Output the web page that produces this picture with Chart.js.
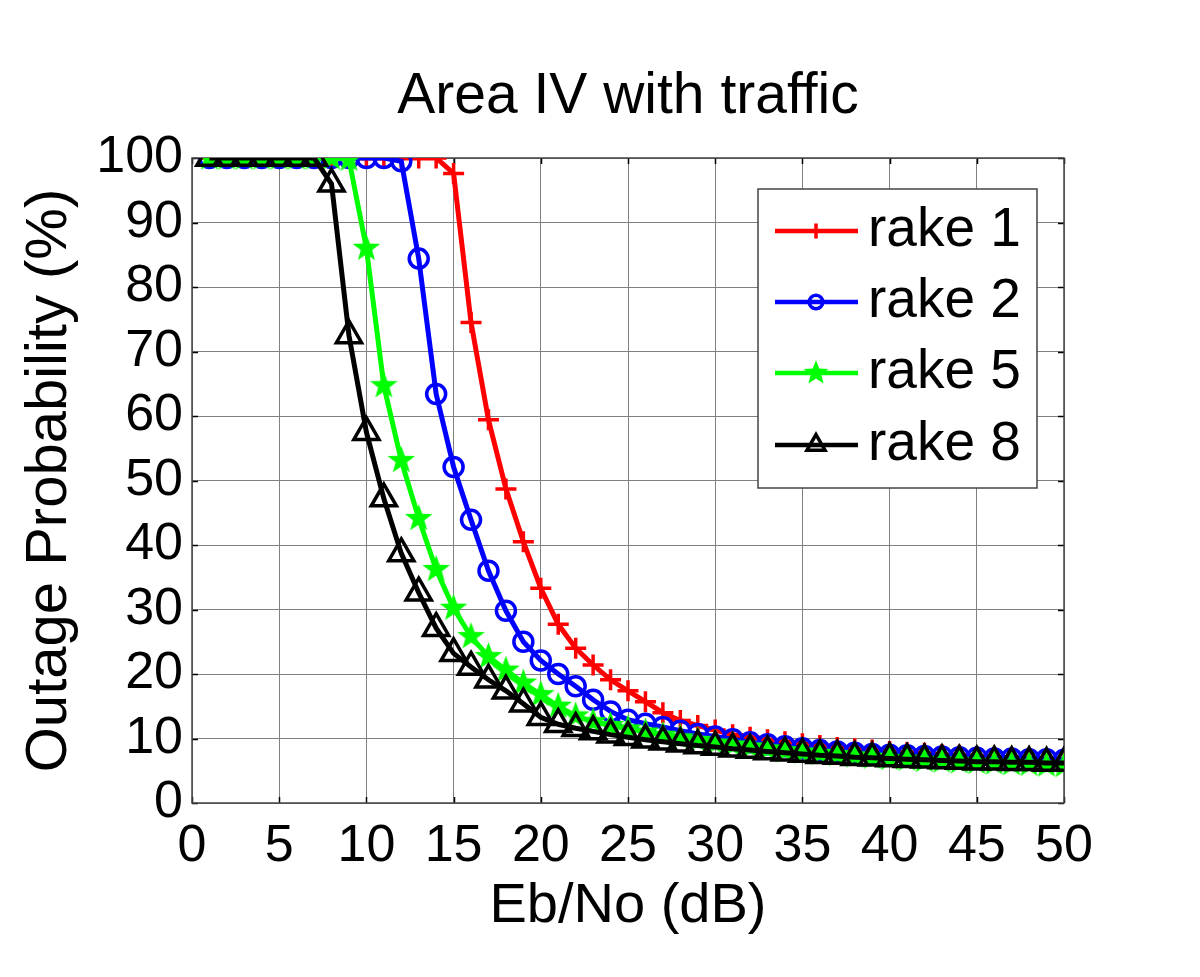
<!DOCTYPE html>
<html>
<head>
<meta charset="utf-8">
<title>Area IV with traffic</title>
<script src="https://cdn.jsdelivr.net/npm/chart.js@4.4.1/dist/chart.umd.min.js"></script>
<style>
  html, body { margin: 0; padding: 0; background: #fff; }
  #wrap { width: 1200px; height: 977px; }
</style>
</head>
<body>
<div id="wrap"><canvas id="outageChart" width="1200" height="977"></canvas></div>
<script>
// Eb/No values (dB)
const ebno = [1, 2, 3, 4, 5, 6, 7, 8, 9, 10, 11, 12, 13, 14, 15, 16, 17, 18, 19, 20,
  21, 22, 23, 24, 25, 26, 27, 28, 29, 30, 31, 32, 33, 34, 35, 36, 37, 38, 39, 40,
  41, 42, 43, 44, 45, 46, 47, 48, 49, 50];

// outage probability (%) per rake configuration
const rake1 = [100, 100, 100, 100, 100, 100, 100, 100, 100, 100, 100, 100, 100, 100, 97.6, 74.5, 59.4, 48.7, 40.5, 33.3,
  27.7, 24.0, 21.4, 19.1, 17.4, 15.7, 14.0, 12.8, 12.0, 11.3, 10.6, 10.2, 9.8, 9.5, 9.2, 8.9, 8.6, 8.4, 8.2, 8.0,
  7.8, 7.7, 7.5, 7.4, 7.2, 7.1, 7.0, 6.9, 6.8, 6.7];
const rake2 = [100, 100, 100, 100, 100, 100, 100, 100, 100, 100, 100, 99.5, 84.4, 63.4, 52.1, 43.9, 36.0, 29.8, 25.0, 22.1,
  20.0, 18.1, 16.0, 14.2, 12.9, 12.3, 11.8, 11.2, 10.7, 10.3, 9.9, 9.4, 9.1, 8.8, 8.5, 8.2, 8.0, 7.8, 7.6, 7.5,
  7.4, 7.3, 7.2, 7.1, 7.0, 6.9, 6.9, 6.8, 6.8, 6.7];
const rake5 = [100, 100, 100, 100, 100, 100, 100, 100, 99.8, 86.0, 64.7, 53.1, 44.1, 36.2, 30.2, 25.8, 22.7, 20.6, 18.6, 16.8,
  15.0, 13.5, 12.6, 12.0, 11.5, 11.0, 10.5, 10.1, 9.7, 9.3, 9.0, 8.7, 8.4, 8.1, 7.9, 7.7, 7.5, 7.3, 7.1, 6.9,
  6.8, 6.6, 6.5, 6.4, 6.3, 6.2, 6.1, 6.0, 5.9, 5.8];
const rake8 = [100, 100, 100, 100, 100, 100, 100, 96.0, 72.5, 57.5, 47.2, 38.7, 32.6, 27.1, 23.2, 21.1, 19.1, 17.4, 15.4, 13.3,
  12.2, 11.6, 11.1, 10.6, 10.2, 9.8, 9.5, 9.2, 8.9, 8.7, 8.4, 8.2, 8.0, 7.8, 7.6, 7.4, 7.3, 7.1, 7.0, 6.9,
  6.8, 6.7, 6.6, 6.5, 6.4, 6.4, 6.3, 6.3, 6.2, 6.2];

const seriesNames = ['rake 1', 'rake 2', 'rake 5', 'rake 8'];
const xTicks = [0, 5, 10, 15, 20, 25, 30, 35, 40, 45, 50];
const yTicks = [0, 10, 20, 30, 40, 50, 60, 70, 80, 90, 100];

const FONT = '"Liberation Sans", Arial, Helvetica, sans-serif';

// filled five point star marker (matlab 'p')
function makeStar(color, outer, inner) {
  const size = Math.ceil(outer * 2 + 2);
  const c = document.createElement('canvas');
  c.width = size; c.height = size;
  const g = c.getContext('2d');
  g.fillStyle = color;
  g.beginPath();
  for (let i = 0; i < 10; i++) {
    const r = i % 2 ? inner : outer;
    const a = -Math.PI / 2 + i * Math.PI / 5;
    g.lineTo(size / 2 + r * Math.cos(a), size / 2 + r * Math.sin(a));
  }
  g.closePath();
  g.fill();
  return c;
}
const star = makeStar('#00ff00', 14.5, 6);
const legendStar = makeStar('#00ff00', 13, 5.5);

const toPoints = vals => vals.map((v, i) => ({ x: ebno[i], y: v }));

// axes box, inward tick marks, title and legend (matlab style)
const matlabFrame = {
  id: 'matlabFrame',
  beforeDatasetsDraw(chart) {
    const { ctx, chartArea: a, scales } = chart;
    ctx.save();
    ctx.strokeStyle = '#000';
    ctx.lineWidth = 1.5;
    ctx.beginPath();
    scales.x.ticks.forEach(t => {
      const px = Math.round(scales.x.getPixelForValue(t.value)) + 0.5;
      ctx.moveTo(px, a.bottom); ctx.lineTo(px, a.bottom - 6);
      ctx.moveTo(px, a.top); ctx.lineTo(px, a.top + 6);
    });
    scales.y.ticks.forEach(t => {
      const py = Math.round(scales.y.getPixelForValue(t.value)) + 0.5;
      ctx.moveTo(a.left, py); ctx.lineTo(a.left + 6, py);
      ctx.moveTo(a.right, py); ctx.lineTo(a.right - 6, py);
    });
    ctx.stroke();
    ctx.strokeStyle = '#444';
    ctx.lineWidth = 1.5;
    ctx.strokeRect(a.left, a.top, a.right - a.left, a.bottom - a.top);
    ctx.restore();
  },
  afterDraw(chart) {
    const { ctx } = chart;
    ctx.save();
    // title
    ctx.fillStyle = '#000';
    ctx.font = '57px ' + FONT;
    ctx.textAlign = 'center';
    ctx.textBaseline = 'middle';
    ctx.fillText('Area IV with traffic', 628, 97);

    // legend box
    const box = { left: 758, top: 189, right: 1037, bottom: 488 };
    ctx.fillStyle = '#fff';
    ctx.fillRect(box.left, box.top, box.right - box.left, box.bottom - box.top);
    ctx.strokeStyle = '#444';
    ctx.lineWidth = 1.5;
    ctx.strokeRect(box.left, box.top, box.right - box.left, box.bottom - box.top);

    const rowY = [231, 302, 373, 445];
    chart.data.datasets.forEach((ds, i) => {
      const y = rowY[i];
      ctx.strokeStyle = ds.borderColor;
      ctx.lineWidth = 4.5;
      ctx.beginPath();
      ctx.moveTo(775, y); ctx.lineTo(858, y);
      ctx.stroke();
      ctx.fillStyle = 'rgba(0,0,0,0)';
      ctx.strokeStyle = ds.borderColor;
      ctx.lineWidth = 3.5;
      const isStar = ds.pointStyle === star;
      Chart.helpers.drawPoint(ctx, {
        pointStyle: isStar ? legendStar : ds.pointStyle,
        radius: ds.pointRadius * 0.72,
        borderWidth: 3.5,
        rotation: 0
      }, 816, y);
      ctx.fillStyle = '#000';
      ctx.font = '55px ' + FONT;
      ctx.textAlign = 'left';
      ctx.textBaseline = 'middle';
      ctx.fillText(ds.label, 868, y);
    });
    ctx.restore();
  }
};

const mk = (label, data, color, style, radius, order) => ({
  label,
  data: toPoints(data),
  borderColor: color,
  backgroundColor: color,
  borderWidth: 5,
  pointStyle: style,
  pointRadius: radius,
  pointHoverRadius: radius,
  pointBorderColor: color,
  pointBackgroundColor: 'rgba(0,0,0,0)',
  pointBorderWidth: 3.5,
  tension: 0,
  fill: false,
  order
});

const ctx = document.getElementById('outageChart').getContext('2d');
new Chart(ctx, {
  type: 'line',
  data: {
    datasets: [
      mk(seriesNames[0], rake1, '#ff0000', 'cross', 10.5, 3),
      mk(seriesNames[1], rake2, '#0000ff', 'circle', 9.5, 2),
      mk(seriesNames[2], rake5, '#00ff00', star, 14, 1),
      mk(seriesNames[3], rake8, '#000000', 'triangle', 14.5, 0)
    ]
  },
  options: {
    responsive: false,
    animation: false,
    layout: { padding: { top: 158, right: 136, bottom: 0, left: 0 } },
    plugins: {
      legend: { display: false },
      title: { display: false },
      tooltip: { enabled: false }
    },
    scales: {
      x: {
        type: 'linear',
        min: 0,
        max: 50,
        afterBuildTicks: s => { s.ticks = xTicks.map(v => ({ value: v })); },
        afterFit: s => { s.height = 174; },
        ticks: { color: '#000', font: { family: FONT, size: 52 }, padding: 12, maxRotation: 0, autoSkip: false },
        grid: { color: '#808080', lineWidth: 1, drawTicks: false },
        border: { display: false },
        title: { display: true, text: 'Eb/No (dB)', color: '#000', font: { family: FONT, size: 56 }, padding: { top: 0, bottom: 37 } }
      },
      y: {
        min: 0,
        max: 100,
        afterBuildTicks: s => { s.ticks = yTicks.map(v => ({ value: v })); },
        afterFit: s => { s.width = 192; },
        ticks: { color: '#000', font: { family: FONT, size: 52 }, padding: 9, autoSkip: false },
        grid: { color: '#808080', lineWidth: 1, drawTicks: false },
        border: { display: false },
        title: { display: true, text: 'Outage Probability (%)', color: '#000', font: { family: FONT, size: 58 }, padding: { top: 15, bottom: 0 } }
      }
    }
  },
  plugins: [matlabFrame]
});
</script>
</body>
</html>
